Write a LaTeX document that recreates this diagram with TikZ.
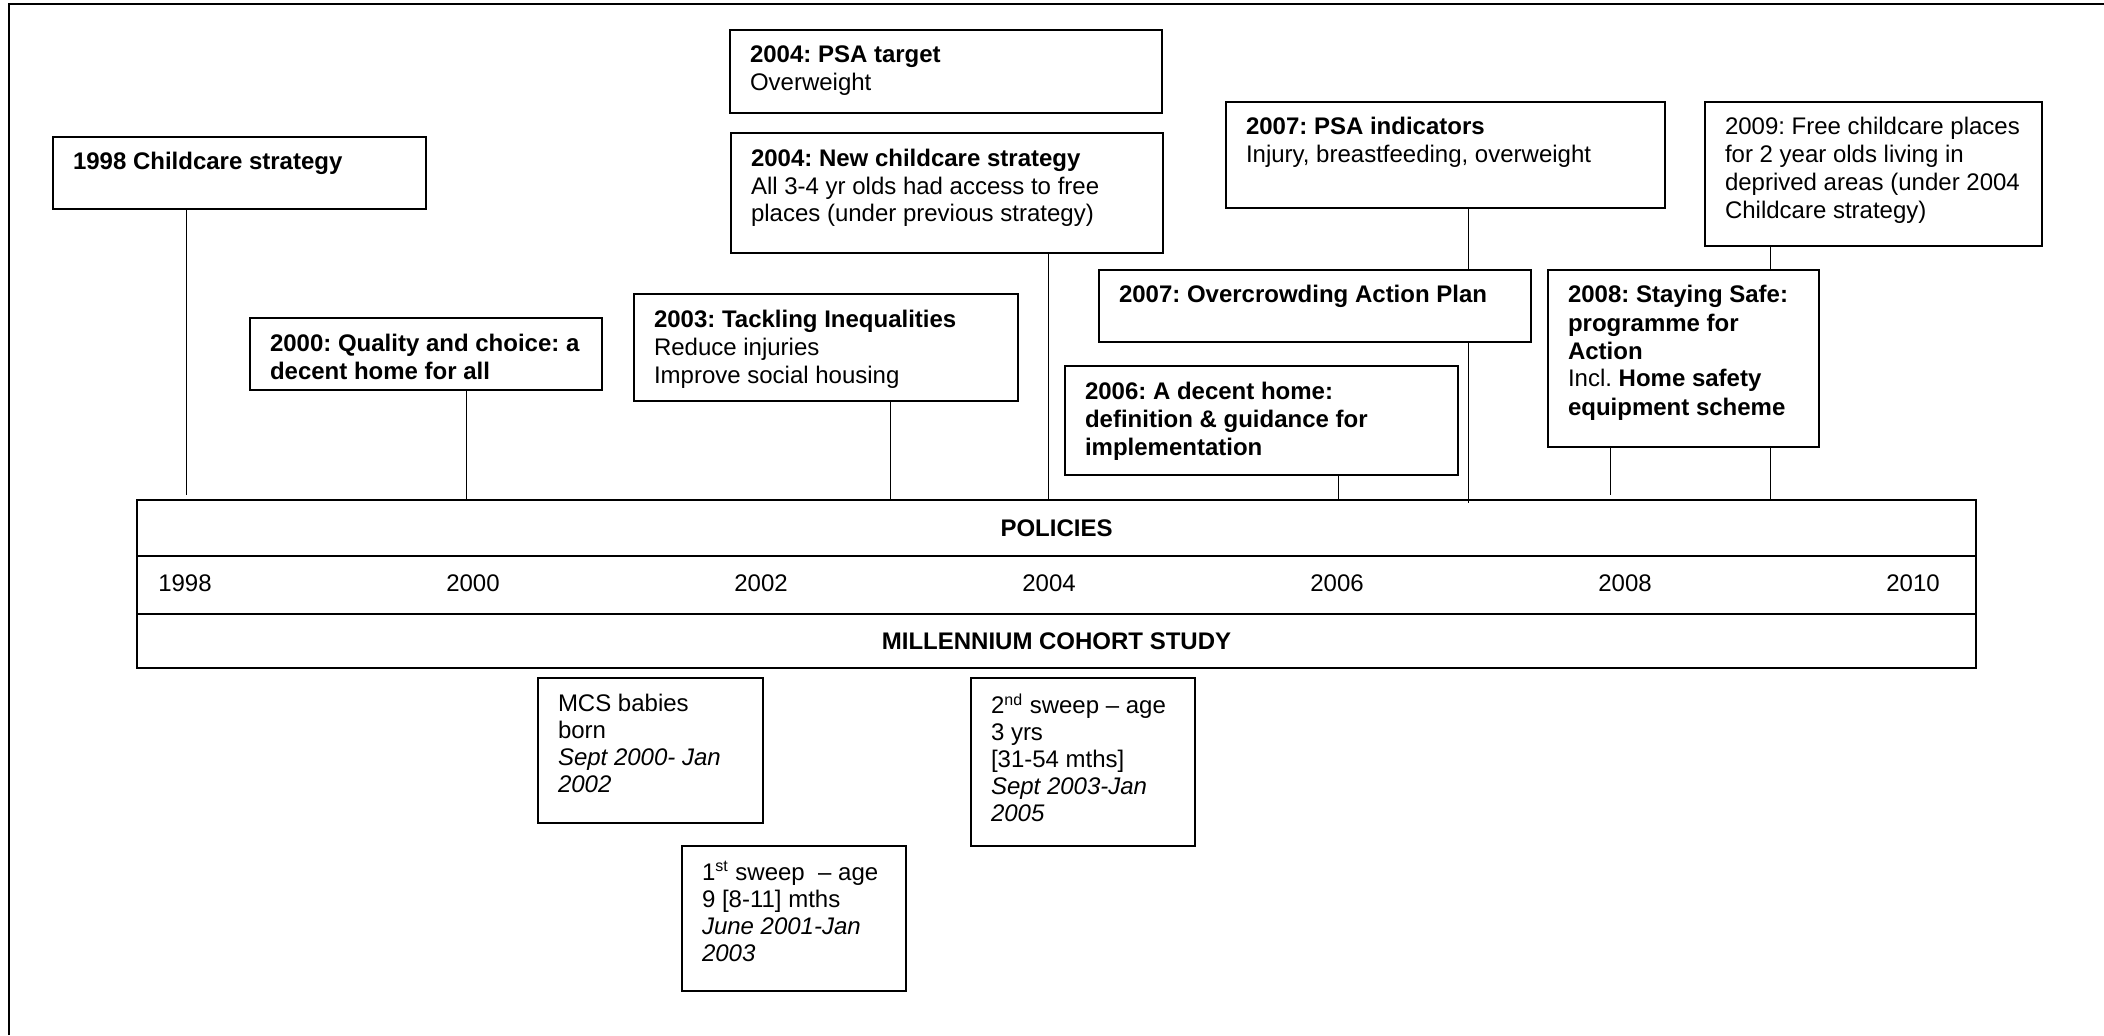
\documentclass[tikz,border=0pt]{standalone}
\usepackage{fontspec}
\setmainfont{Liberation Sans}
\usetikzlibrary{calc}
\frenchspacing

% text block pinned to the top of a fixed size box
\newcommand{\inbox}[3]{\parbox[c][#2][t]{#1}{\vspace{7.8pt}\raggedright #3}}

\tikzset{
    policy/.style={draw, line width=1pt, anchor=north west, inner xsep=10pt, inner ysep=0pt,
        font=\fontsize{12}{14}\selectfont},
    sweep/.style={policy, font=\fontsize{12}{13.5}\selectfont},
    band/.style={draw, line width=1pt, anchor=north west, minimum width=919.5pt, inner sep=0pt,
        outer sep=0pt, font=\fontsize{12}{14}\selectfont\bfseries},
    year/.style={font=\fontsize{12}{14}\selectfont},
    link/.style={line width=0.5pt},
}

\begin{document}
\begin{tikzpicture}[x=0.5pt, y=-0.5pt]
    \useasboundingbox (0,0) rectangle (2104,1035);
    \draw[line width=1pt] (9,1035) -- (9,4) -- (2104,4);

    % policies above the time line
    \node[policy] (y98) at (52,136) {\inbox{166.5pt}{36pt}{\textbf{1998 Childcare strategy}}};
    \node[policy] (y00) at (249,317) {\inbox{156pt}{36pt}{\textbf{2000: Quality and choice: a\\ decent home for all}}};
    \node[policy] (y03) at (633,293) {\inbox{172pt}{53.5pt}{\textbf{2003: Tackling Inequalities}\\ Reduce injuries\\ Improve social housing}};
    \node[policy] (psa04) at (729,29) {\inbox{196pt}{41.5pt}{\textbf{2004: PSA target}\\ Overweight}};
    \node[policy] (cc04) at (730,132) {\inbox{196pt}{60pt}{\textbf{2004: New childcare strategy}\\ All 3-4 yr olds had access to free\\ places (under previous strategy)}};
    \node[policy] (psa07) at (1225,101) {\inbox{199.5pt}{53pt}{\textbf{2007: PSA indicators}\\ Injury, breastfeeding, overweight}};
    \node[policy] (oc07) at (1098,269) {\inbox{196pt}{36pt}{\textbf{2007: Overcrowding Action Plan}}};
    \node[policy] (dh06) at (1064,365) {\inbox{176.5pt}{54.5pt}{\textbf{2006: A decent home:\\ definition \& guidance for\\ implementation}}};
    \node[policy] (ss08) at (1547,269) {\inbox{115.5pt}{88.5pt}{\textbf{2008: Staying Safe:\\ programme for\\ Action}\\ Incl. \textbf{Home safety}\\ \textbf{equipment scheme}}};
    \node[policy] (fc09) at (1704,101) {\inbox{148.5pt}{72pt}{2009: Free childcare places\\ for 2 year olds living in\\ deprived areas (under 2004\\ Childcare strategy)}};

    % time line
    \node[band, minimum height=28pt] (pol) at (137,500) {POLICIES};
    \node[band, minimum height=29pt] (yrs) at (pol.south west) {};
    \node[band, minimum height=27pt] (mcs) at (yrs.south west) {MILLENNIUM COHORT STUDY};
    \foreach \yr [count=\i from 0] in {1998,2000,2002,2004,2006,2008,2010}
        \node[year] (yr\yr) at (185+288*\i, 583) {\yr};

    % cohort sweeps below
    \node[sweep] (born) at (537,677) {\inbox{92.5pt}{72.5pt}{MCS babies\\ born\\ \textit{Sept 2000- Jan}\\ \textit{2002}}};
    \node[sweep] (sw1) at (681,845) {\inbox{92pt}{72.5pt}{1\textsuperscript{st} sweep~ -- age\\ 9 {[}8-11] mths\\ \textit{June 2001-Jan}\\ \textit{2003}}};
    \node[sweep] (sw2) at (970,677) {\inbox{92pt}{84pt}{2\textsuperscript{nd} sweep -- age\\ 3 yrs\\ {[}31-54 mths]\\ \textit{Sept 2003-Jan}\\ \textit{2005}}};

    % links to the time line
    \coordinate (t98) at (186,0);
    \coordinate (t00) at (466,0);
    \coordinate (t03) at (890,0);
    \coordinate (t04) at (1048,0);
    \coordinate (t06) at (1338,0);
    \coordinate (t07) at (1468,0);
    \coordinate (t08) at (1610,0);
    \coordinate (t09) at (1770,0);
    \draw[link, shorten >=2.5pt] (y98.south -| t98) -- (pol.north -| t98);
    \draw[link] (y00.south -| t00) -- (pol.north -| t00);
    \draw[link] (y03.south -| t03) -- (pol.north -| t03);
    \draw[link] (cc04.south -| t04) -- (pol.north -| t04);
    \draw[link] (dh06.south -| t06) -- (pol.north -| t06);
    \draw[link] (psa07.south -| t07) -- (oc07.north -| t07);
    \draw[link, shorten >=-1.5pt] (oc07.south -| t07) -- (pol.north -| t07);
    \draw[link, shorten >=2.5pt] (ss08.south -| t08) -- (pol.north -| t08);
    \draw[link] (fc09.south -| t09) -- (ss08.north -| t09);
    \draw[link] (ss08.south -| t09) -- (pol.north -| t09);
\end{tikzpicture}
\end{document}
